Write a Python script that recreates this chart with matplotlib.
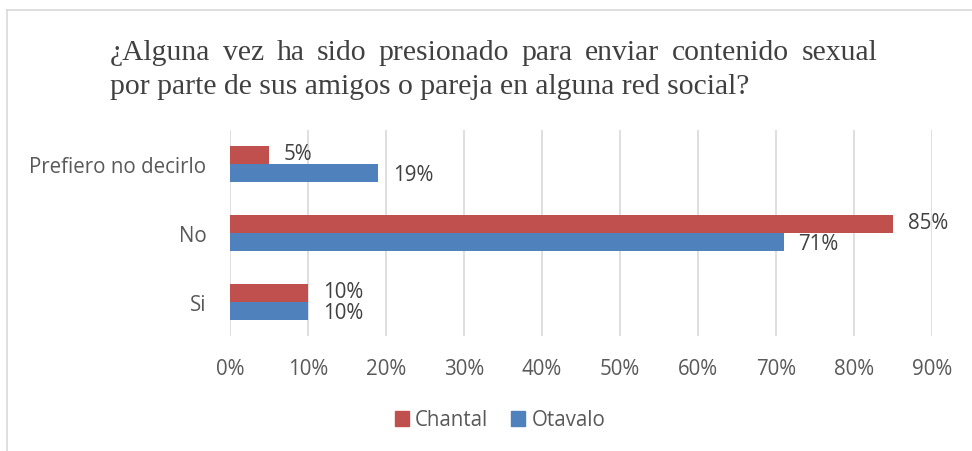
import matplotlib
matplotlib.use("Agg")
import matplotlib.pyplot as plt
from matplotlib.lines import Line2D
from matplotlib.patches import Patch
import numpy as np

categories = ["Si", "No", "Prefiero no decirlo"]
chantal = [10, 85, 5]
otavalo = [10, 71, 19]
series_names = ["Chantal", "Otavalo"]
xticks = [0, 10, 20, 30, 40, 50, 60, 70, 80, 90]
title_line1 = "¿Alguna vez ha sido presionado para enviar contenido sexual"
title_line2 = "por parte de sus amigos o pareja en alguna red social?"

RED = "#C0504D"
BLUE = "#4F81BD"
TXT = "#595959"
GRID = "#D9D9D9"
W, H = 972, 452

fig = plt.figure(figsize=(W / 100, H / 100), dpi=100)
ax = fig.add_axes([230 / W, 1 - 337 / H, 702 / W, 206 / H])

sans = ["Open Sans", "DejaVu Sans"]
fs = 14.8
lfs = 14.8
y = np.arange(len(categories))
h = 0.26
ax.barh(y + h / 2, chantal, height=h, color=RED, label=series_names[0], zorder=3)
ax.barh(y - h / 2, otavalo, height=h, color=BLUE, label=series_names[1], zorder=3)

for yi, v in zip(y, chantal):
    ax.text(v + 1.9, yi + h / 2 + 0.025, f"{v}%", va="center", ha="left", fontsize=lfs,
            color="#404040", family=sans)
for yi, v in zip(y, otavalo):
    ax.text(v + 1.9, yi - h / 2 - 0.025, f"{v}%", va="center", ha="left", fontsize=lfs,
            color="#404040", family=sans)

ax.set_xlim(0, 90)
ax.set_ylim(-0.5, 2.5)
ax.set_xticks(xticks)
ax.set_xticklabels([f"{t}%" for t in xticks], fontsize=fs, color=TXT, family=sans)
ax.set_yticks(y)
ax.set_yticklabels(categories, fontsize=fs, color=TXT, family=sans)
ax.tick_params(axis="both", length=0)
ax.tick_params(axis="x", pad=16)
ax.tick_params(axis="y", pad=17)
ax.grid(axis="x", color=GRID, linewidth=1.2, zorder=0)
for s in ax.spines.values():
    s.set_visible(False)

# chart-area border (left and top lines)
fig.add_artist(Line2D([7 / W, 7 / W], [0, 1 - 11 / H], color=GRID, linewidth=1.2,
                      transform=fig.transFigure))
fig.add_artist(Line2D([7 / W, 1], [1 - 11 / H, 1 - 11 / H], color=GRID, linewidth=1.2,
                      transform=fig.transFigure))

# Title: first line justified, second left-aligned
serif = ["Liberation Serif", "DejaVu Serif"]
tfs = 21.3
x0, x1 = 110, 877
words = title_line1.split(" ")
renderer = fig.canvas.get_renderer()
texts = []
for wd in words:
    t = fig.text(0, 1 - 53 / H, wd, fontsize=tfs, family=serif, color="#404040",
                 va="center", ha="left")
    texts.append(t)
widths = [t.get_window_extent(renderer=renderer).width for t in texts]
gap = ((x1 - x0) - sum(widths)) / (len(words) - 1)
cx = x0
for t, wdt in zip(texts, widths):
    t.set_x(cx / W)
    cx += wdt + gap
fig.text(x0 / W, 1 - 87 / H, title_line2, fontsize=tfs, family=serif, color="#404040",
         va="center", ha="left")

handles = [Patch(color=RED, label=series_names[0]), Patch(color=BLUE, label=series_names[1])]
fig.legend(handles=handles, loc="center", bbox_to_anchor=(500 / W, 1 - 421 / H),
           ncol=2, frameon=False, prop={"family": sans, "size": fs},
           labelcolor=TXT, handlelength=0.7, handleheight=0.7, handletextpad=0.3,
           columnspacing=1.1)

fig.savefig("out.png", dpi=100, facecolor="white")
